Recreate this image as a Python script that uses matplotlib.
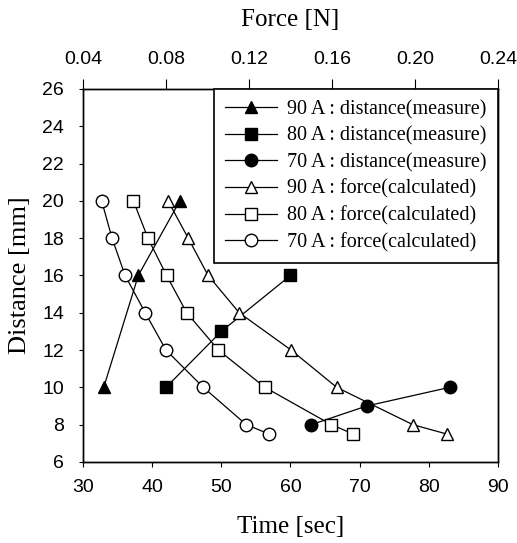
import matplotlib.pyplot as plt

plt.rcParams['font.family'] = 'Liberation Serif'

# measured distance vs time
t_90 = [33, 38, 44]
d_90 = [10, 16, 20]
t_80 = [42, 50, 60]
d_80 = [10, 13, 16]
t_70 = [63, 71, 83]
d_70 = [8, 9, 10]

# calculated force vs distance (top axis)
f_90 = [0.081, 0.0907, 0.1003, 0.1153, 0.1403, 0.1623, 0.199, 0.2153]
fd_90 = [20, 18, 16, 14, 12, 10, 8, 7.5]
f_80 = [0.0643, 0.0713, 0.0803, 0.09, 0.1053, 0.1277, 0.1597, 0.1703]
fd_80 = [20, 18, 16, 14, 12, 10, 8, 7.5]
f_70 = [0.049, 0.054, 0.0603, 0.07, 0.08, 0.098, 0.1187, 0.1297]
fd_70 = [20, 18, 16, 14, 12, 10, 8, 7.5]

time_ticks = [30, 40, 50, 60, 70, 80, 90]
force_ticks = [0.04, 0.08, 0.12, 0.16, 0.20, 0.24]
force_labels = ['0.04', '0.08', '0.12', '0.16', '0.20', '0.24']
dist_ticks = [6, 8, 10, 12, 14, 16, 18, 20, 22, 24, 26]

fig = plt.figure(figsize=(5.17, 5.43), dpi=100)
ax = fig.add_axes([0.1605, 0.1492, 0.8027, 0.687])
ax2 = ax.twiny()

kw = dict(color='black', lw=0.9, ms=9)
h1, = ax.plot(t_90, d_90, marker='^', mfc='black', label='90 A : distance(measure)', **kw)
h2, = ax.plot(t_80, d_80, marker='s', mfc='black', label='80 A : distance(measure)', **kw)
h3, = ax.plot(t_70, d_70, marker='o', mfc='black', label='70 A : distance(measure)', **kw)
h4, = ax2.plot(f_90, fd_90, marker='^', mfc='white', label='90 A : force(calculated)', **kw)
h5, = ax2.plot(f_80, fd_80, marker='s', mfc='white', label='80 A : force(calculated)', **kw)
h6, = ax2.plot(f_70, fd_70, marker='o', mfc='white', label='70 A : force(calculated)', **kw)

ax.set_xlim(30, 90)
ax.set_ylim(6, 26)
ax2.set_xlim(0.04, 0.24)
ax.set_xticks(time_ticks)
ax.set_yticks(dist_ticks)
ax2.set_xticks(force_ticks)
ax2.set_xticklabels(force_labels)

ax.tick_params(axis='x', direction='out', length=3.5, labelsize=14, pad=9)
ax.tick_params(axis='y', direction='out', length=3, labelsize=14, pad=10.5)
ax2.tick_params(axis='x', direction='out', length=7, labelsize=14, pad=8)
for a in (ax, ax2):
    for lab in a.get_xticklabels() + a.get_yticklabels():
        lab.set_family('Liberation Sans')
    for s in a.spines.values():
        s.set_linewidth(1.0)

ax.set_xlabel('Time [sec]', fontsize=18, labelpad=14)
ax.set_ylabel('Distance [mm]', fontsize=19, labelpad=8)
ax2.set_xlabel('Force [N]', fontsize=18, labelpad=18)

leg = ax2.legend(handles=[h1, h2, h3, h4, h5, h6], loc='upper right',
                 fontsize=14.5, frameon=True, fancybox=False, framealpha=1,
                 edgecolor='black', borderaxespad=0, labelspacing=0.36,
                 handlelength=2.6, handletextpad=0.5, borderpad=0.55)
leg.get_frame().set_linewidth(1.2)

fig.savefig('out.png', dpi=100)
